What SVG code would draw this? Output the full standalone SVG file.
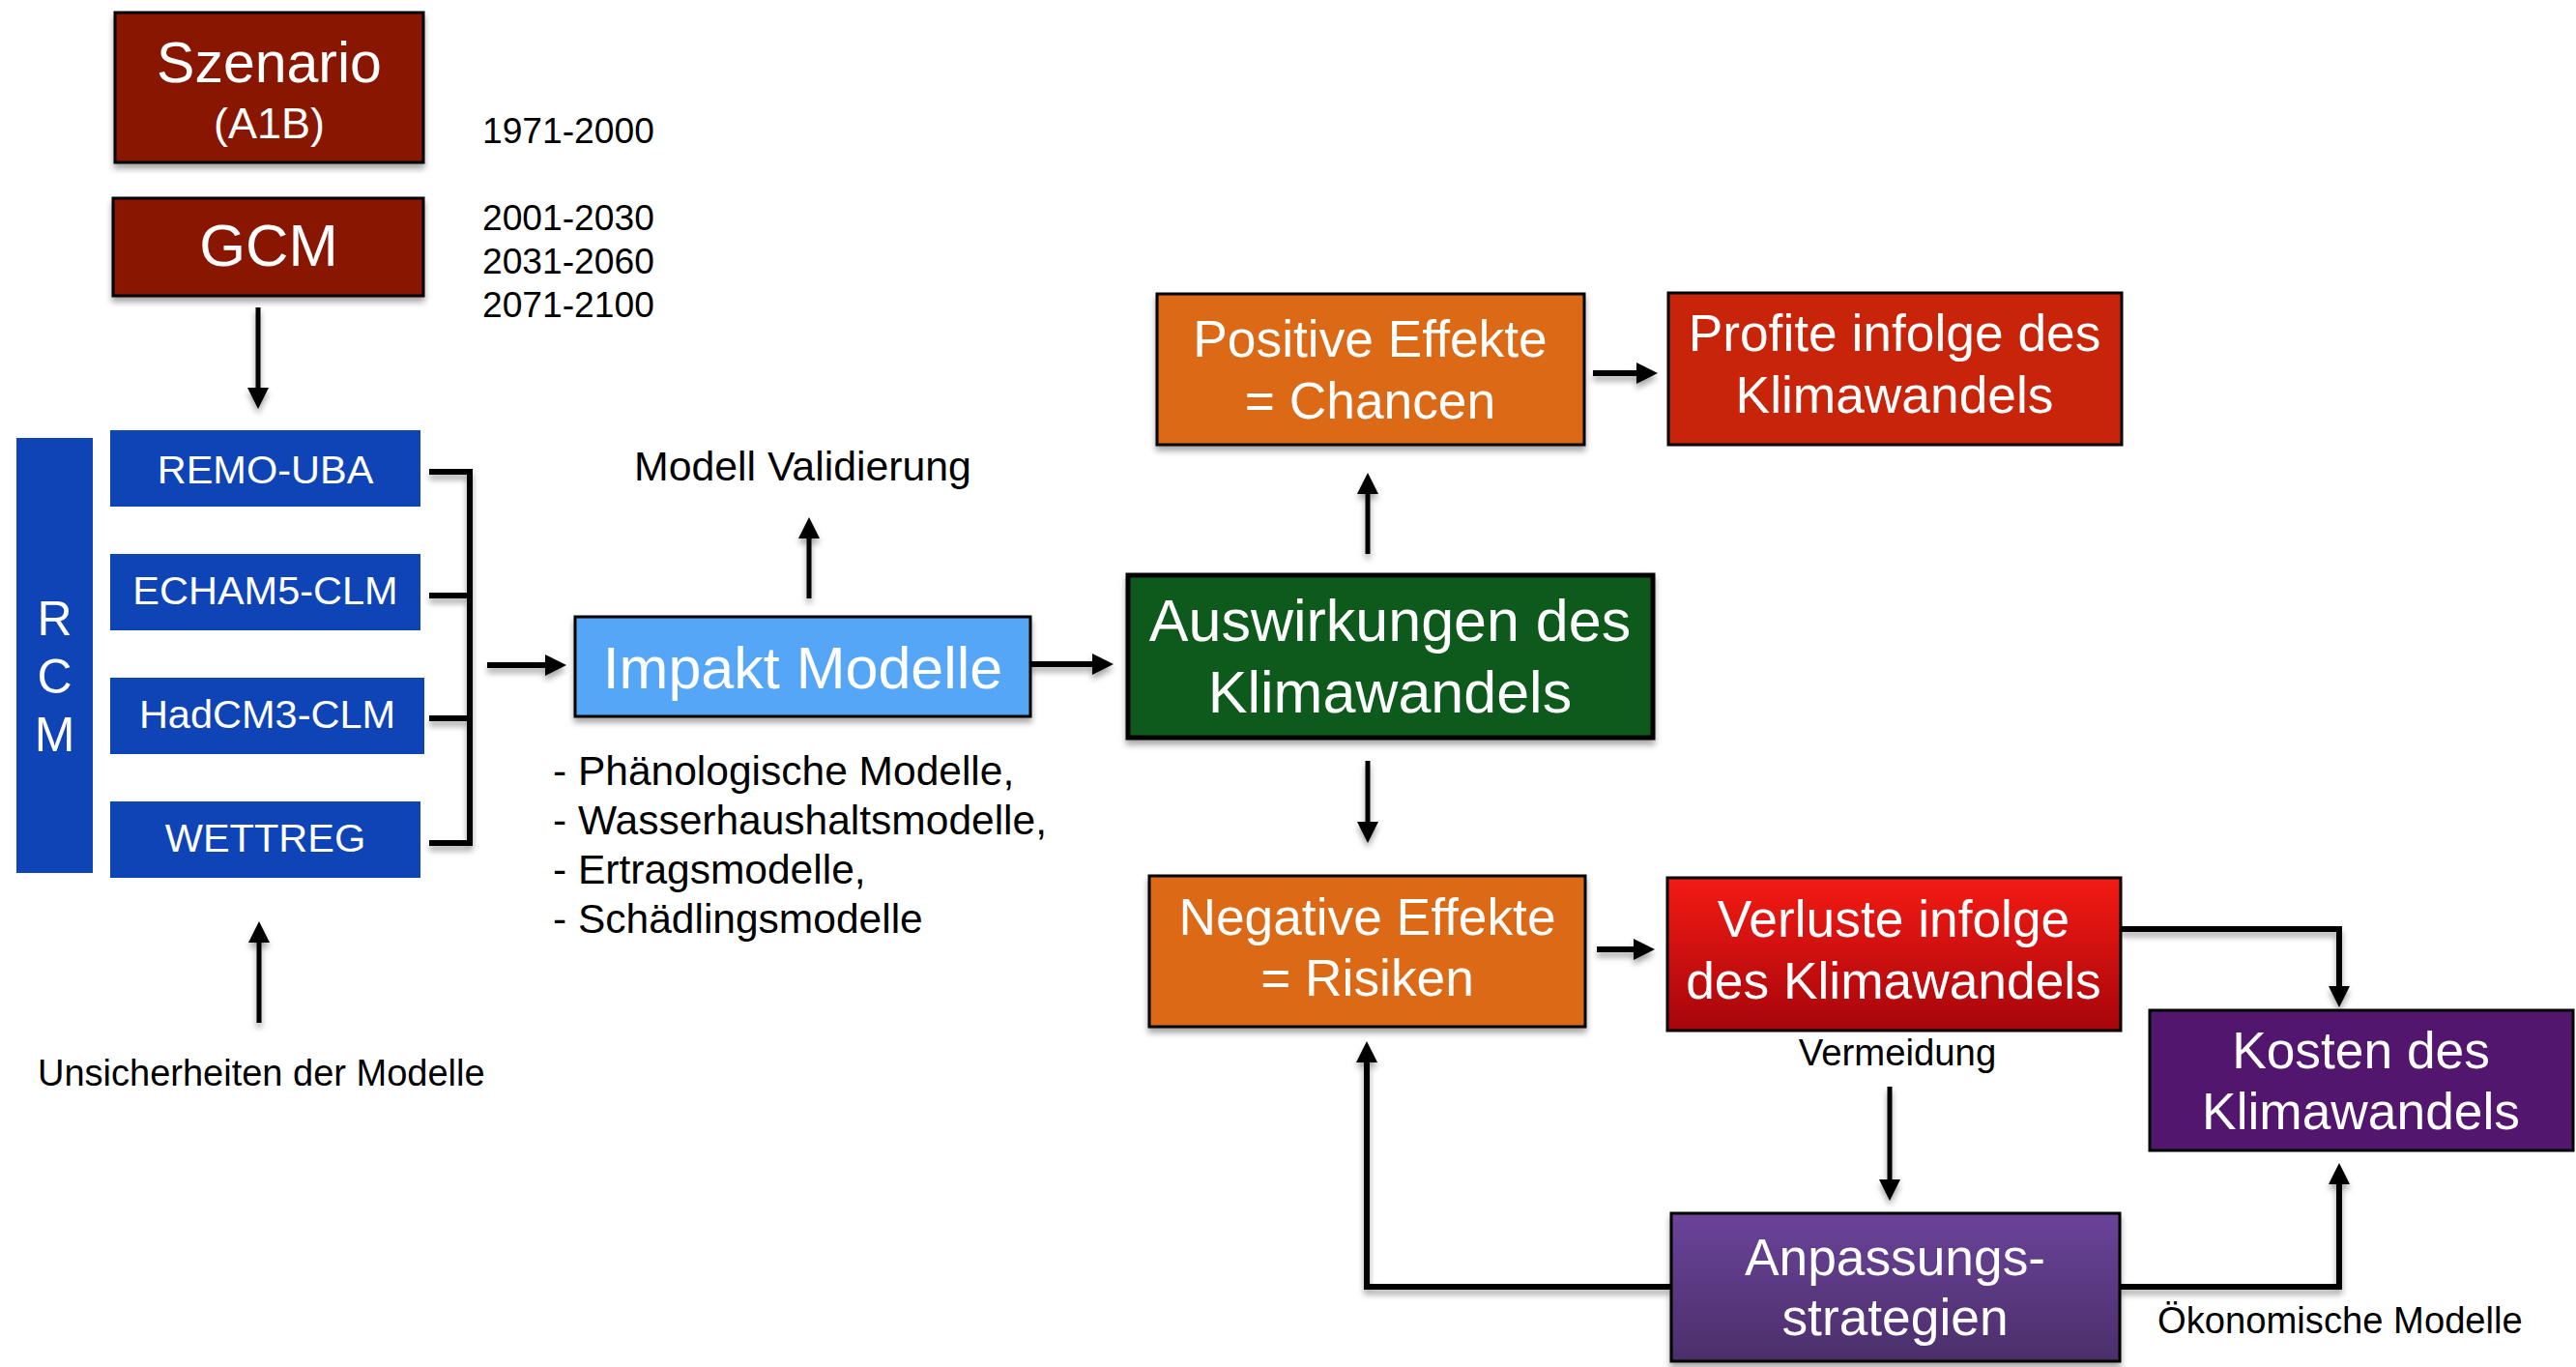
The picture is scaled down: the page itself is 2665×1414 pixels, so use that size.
<svg xmlns="http://www.w3.org/2000/svg" width="2665" height="1414" viewBox="0 0 2665 1414">
<defs>
<style>
text{font-family:"Liberation Sans",Arial,Helvetica,sans-serif;}
.w{fill:#fff;text-anchor:middle;}
.k{fill:#000;}
.box{stroke:#000;stroke-width:3;}
.rcm{fill:#0F44B7;}
.con{fill:none;stroke:#000;stroke-width:6;stroke-linejoin:miter;}
.v{stroke-width:5;}
.t2{font-size:53.3px;}
</style>
<filter id="sh" filterUnits="userSpaceOnUse" x="0" y="0" width="2665" height="1414">
<feDropShadow dx="0" dy="5" stdDeviation="3" flood-color="#000" flood-opacity="0.35"/>
</filter>
<marker id="ah" viewBox="0 0 22 22" markerUnits="userSpaceOnUse" markerWidth="22" markerHeight="22" refX="1" refY="11" orient="auto">
<path d="M0,0 L22,11 L0,22 z" fill="#000"/>
</marker>
<linearGradient id="gRed" x1="0" y1="0" x2="0" y2="1">
<stop offset="0" stop-color="#F41B14"/>
<stop offset="1" stop-color="#A6050B"/>
</linearGradient>
<linearGradient id="gPur" x1="0" y1="0" x2="0" y2="1">
<stop offset="0" stop-color="#6B4399"/>
<stop offset="1" stop-color="#4B2E6A"/>
</linearGradient>
</defs>
<rect width="2665" height="1414" fill="#fff"/>

<g id="connectors" filter="url(#sh)">
<path class="con v" d="M267,318 V402" marker-end="url(#ah)"/>
<path class="con v" d="M268,1058 V974" marker-end="url(#ah)"/>
<path class="con" d="M444,488 H486 V872 H444 M444,616 H486 M444,743 H486"/>
<path class="con" d="M504,688 H565" marker-end="url(#ah)"/>
<path class="con v" d="M837,619 V556" marker-end="url(#ah)"/>
<path class="con" d="M1066,687 H1131" marker-end="url(#ah)"/>
<path class="con v" d="M1415,573 V510" marker-end="url(#ah)"/>
<path class="con" d="M1648,386 H1694" marker-end="url(#ah)"/>
<path class="con v" d="M1415,787 V851" marker-end="url(#ah)"/>
<path class="con" d="M1652,982 H1691" marker-end="url(#ah)"/>
<path class="con" d="M2194,961 H2420 V1021" marker-end="url(#ah)"/>
<path class="con v" d="M1955,1124 V1221" marker-end="url(#ah)"/>
<path class="con" d="M1728,1331 H1414 V1098" marker-end="url(#ah)"/>
<path class="con" d="M2193,1331 H2420 V1224" marker-end="url(#ah)"/>
</g>

<g id="szenario">
<rect class="box" x="119" y="13" width="319" height="155" fill="#891200" filter="url(#sh)"/>
<text class="w" x="278.5" y="85" font-size="59">Szenario</text>
<text class="w" x="278.5" y="143" font-size="45">(A1B)</text>
</g>
<g id="gcm">
<rect class="box" x="117" y="205" width="321" height="101" fill="#891200" filter="url(#sh)"/>
<text class="w" x="278" y="275" font-size="61.5">GCM</text>
</g>
<g id="years">
<text class="k" x="499" y="148" font-size="37.2">1971-2000</text>
<text class="k" x="499" y="238" font-size="37.2">2001-2030</text>
<text class="k" x="499" y="283" font-size="37.2">2031-2060</text>
<text class="k" x="499" y="328" font-size="37.2">2071-2100</text>
</g>
<g id="rcm">
<rect class="rcm" x="17" y="453" width="79" height="450"/>
<text class="w" x="56.5" y="657" font-size="50">R</text>
<text class="w" x="56.5" y="717" font-size="50">C</text>
<text class="w" x="56.5" y="777" font-size="50">M</text>
</g>
<g id="remo">
<rect class="rcm" x="114" y="445" width="321" height="79"/>
<text class="w" x="274.5" y="500" font-size="41.5">REMO-UBA</text>
</g>
<g id="echam">
<rect class="rcm" x="114" y="573" width="321" height="79"/>
<text class="w" x="274.5" y="625" font-size="41.5">ECHAM5-CLM</text>
</g>
<g id="hadcm">
<rect class="rcm" x="114" y="701" width="325" height="79"/>
<text class="w" x="276.5" y="753" font-size="41.5">HadCM3-CLM</text>
</g>
<g id="wettreg">
<rect class="rcm" x="114" y="829" width="321" height="79"/>
<text class="w" x="274.5" y="881" font-size="41.5">WETTREG</text>
</g>
<g id="unsicherheiten">
<text class="k" x="39" y="1123" font-size="38">Unsicherheiten der Modelle</text>
</g>
<g id="validierung">
<text class="k" x="656" y="497" font-size="42.8">Modell Validierung</text>
</g>
<g id="impakt">
<rect class="box" x="595" y="638" width="471" height="103" fill="#55A6F7" filter="url(#sh)"/>
<text class="w" x="830.5" y="712" font-size="61">Impakt Modelle</text>
</g>
<g id="impakt-list">
<text class="k" x="572" y="812" font-size="42.5">- Phänologische Modelle,</text>
<text class="k" x="572" y="863" font-size="42.5">- Wasserhaushaltsmodelle,</text>
<text class="k" x="572" y="914" font-size="42.5">- Ertragsmodelle,</text>
<text class="k" x="572" y="965" font-size="42.5">- Schädlingsmodelle</text>
</g>
<g id="auswirkungen">
<rect x="1167" y="595" width="543" height="168" fill="#0E5A1A" stroke="#000" stroke-width="5" filter="url(#sh)"/>
<text class="w" x="1438" y="663" font-size="61">Auswirkungen des</text>
<text class="w" x="1438" y="737" font-size="61">Klimawandels</text>
</g>
<g id="positive">
<rect class="box" x="1197" y="304" width="442" height="156" fill="#DC6912" filter="url(#sh)"/>
<text class="w t2" x="1417.5" y="369">Positive Effekte</text>
<text class="w t2" x="1417.5" y="433">= Chancen</text>
</g>
<g id="profite">
<rect class="box" x="1726" y="303" width="469" height="157" fill="#C8240A"/>
<text class="w t2" x="1960" y="363">Profite infolge des</text>
<text class="w t2" x="1960" y="427">Klimawandels</text>
</g>
<g id="negative">
<rect class="box" x="1189" y="906" width="451" height="156" fill="#DC6912" filter="url(#sh)"/>
<text class="w t2" x="1414.5" y="967">Negative Effekte</text>
<text class="w t2" x="1414.5" y="1030">= Risiken</text>
</g>
<g id="verluste">
<rect class="box" x="1725" y="908" width="469" height="158" fill="url(#gRed)"/>
<text class="w t2" x="1959" y="969">Verluste infolge</text>
<text class="w t2" x="1959" y="1033">des Klimawandels</text>
</g>
<g id="vermeidung">
<text class="k" x="1963" y="1102" font-size="38.3" text-anchor="middle">Vermeidung</text>
</g>
<g id="kosten">
<rect class="box" x="2224" y="1045" width="438" height="145" fill="#52166E"/>
<text class="w t2" x="2442.5" y="1105">Kosten des</text>
<text class="w t2" x="2442.5" y="1168">Klimawandels</text>
</g>
<g id="anpassung">
<rect class="box" x="1729" y="1255" width="464" height="153" fill="url(#gPur)" filter="url(#sh)"/>
<text class="w t2" x="1960.5" y="1319">Anpassungs-</text>
<text class="w t2" x="1960.5" y="1381">strategien</text>
</g>
<g id="oekonomisch">
<text class="k" x="2232" y="1379" font-size="38.2">Ökonomische Modelle</text>
</g>
</svg>
